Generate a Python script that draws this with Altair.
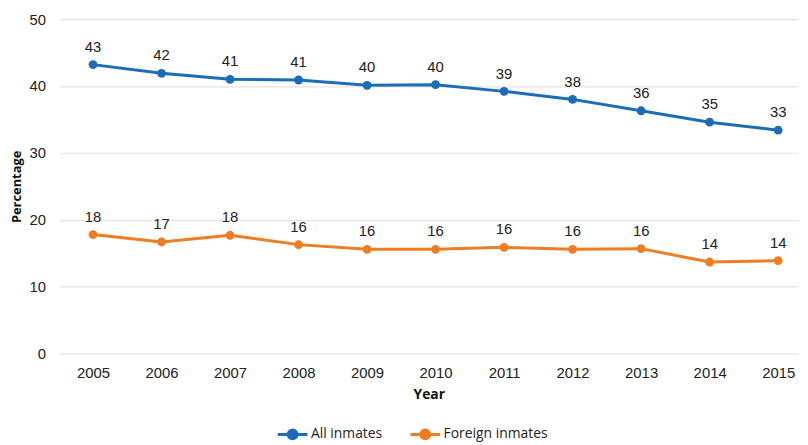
import altair as alt
import pandas as pd

years = [2005, 2006, 2007, 2008, 2009, 2010, 2011, 2012, 2013, 2014, 2015]
all_inmates = [43.2, 41.9, 41.0, 40.9, 40.1, 40.2, 39.2, 38.0, 36.3, 34.6, 33.4]
foreign_inmates = [17.8, 16.7, 17.7, 16.3, 15.6, 15.6, 15.9, 15.6, 15.7, 13.7, 13.9]
series_names = ["All inmates", "Foreign inmates"]
series_colors = ["#1c6cb8", "#ee7d24"]

rows = []
for y, a, f in zip(years, all_inmates, foreign_inmates):
    rows.append({"Year": y, "Series": series_names[0], "Value": a})
    rows.append({"Year": y, "Series": series_names[1], "Value": f})
df = pd.DataFrame(rows)

x = alt.X(
    "Year:Q",
    scale=alt.Scale(domain=[2004.51, 2015.29], nice=False, zero=False),
    axis=alt.Axis(
        values=years, format="d", title="Year", grid=False, ticks=False, domain=False,
        labelFont="Liberation Sans", labelFontSize=15, labelColor="#222222", labelPadding=12,
        titleFont="Open Sans", titleFontSize=14, titleFontWeight="bold", titleColor="#111111",
        titlePadding=7,
    ),
)
y = alt.Y(
    "Value:Q",
    scale=alt.Scale(domain=[0, 50], nice=False),
    axis=alt.Axis(
        values=[0, 10, 20, 30, 40, 50], title="Percentage", grid=True, gridColor="#e3e3e3",
        gridWidth=1.2, ticks=False, domain=False,
        labelFont="Liberation Sans", labelFontSize=15, labelColor="#222222", labelPadding=14,
        titleFont="Open Sans", titleFontSize=13, titleFontWeight="bold", titleColor="#111111",
        titlePadding=6,
    ),
)
color = alt.Color(
    "Series:N",
    scale=alt.Scale(domain=series_names, range=series_colors),
    legend=alt.Legend(
        title=None, orient="none", direction="horizontal", legendX=219, legendY=403,
        symbolType="M-1,0H1M-0.3,0A0.3,0.3 0 1 1 0.3,0A0.3,0.3 0 1 1 -0.3,0Z",
        symbolSize=900, symbolStrokeWidth=3, symbolFillColor=None,
        labelFont="Open Sans", labelFontSize=14, labelColor="#222222",
        columnPadding=22, labelOffset=2,
    ),
)

base = alt.Chart(df)
lines = base.mark_line(strokeWidth=3).encode(x=x, y=y, color=color)
points = base.mark_point(filled=True, size=80, opacity=1).encode(x=x, y=y, color=color)
labels = base.mark_text(
    dy=-18, font="Liberation Sans", fontSize=15, color="#222222", baseline="middle"
).encode(x=x, y=y, text=alt.Text("Value:Q", format=".0f"))

chart = (
    alt.layer(lines, points, labels)
    .properties(
        width=746, height=338,
        autosize=alt.AutoSizeParams(type="none"),
        padding={"left": 52, "top": 9, "right": 2, "bottom": 90},
    )
    .configure_view(stroke=None)
)

chart.save("out.html", embed_options={"renderer": "svg", "actions": False})
